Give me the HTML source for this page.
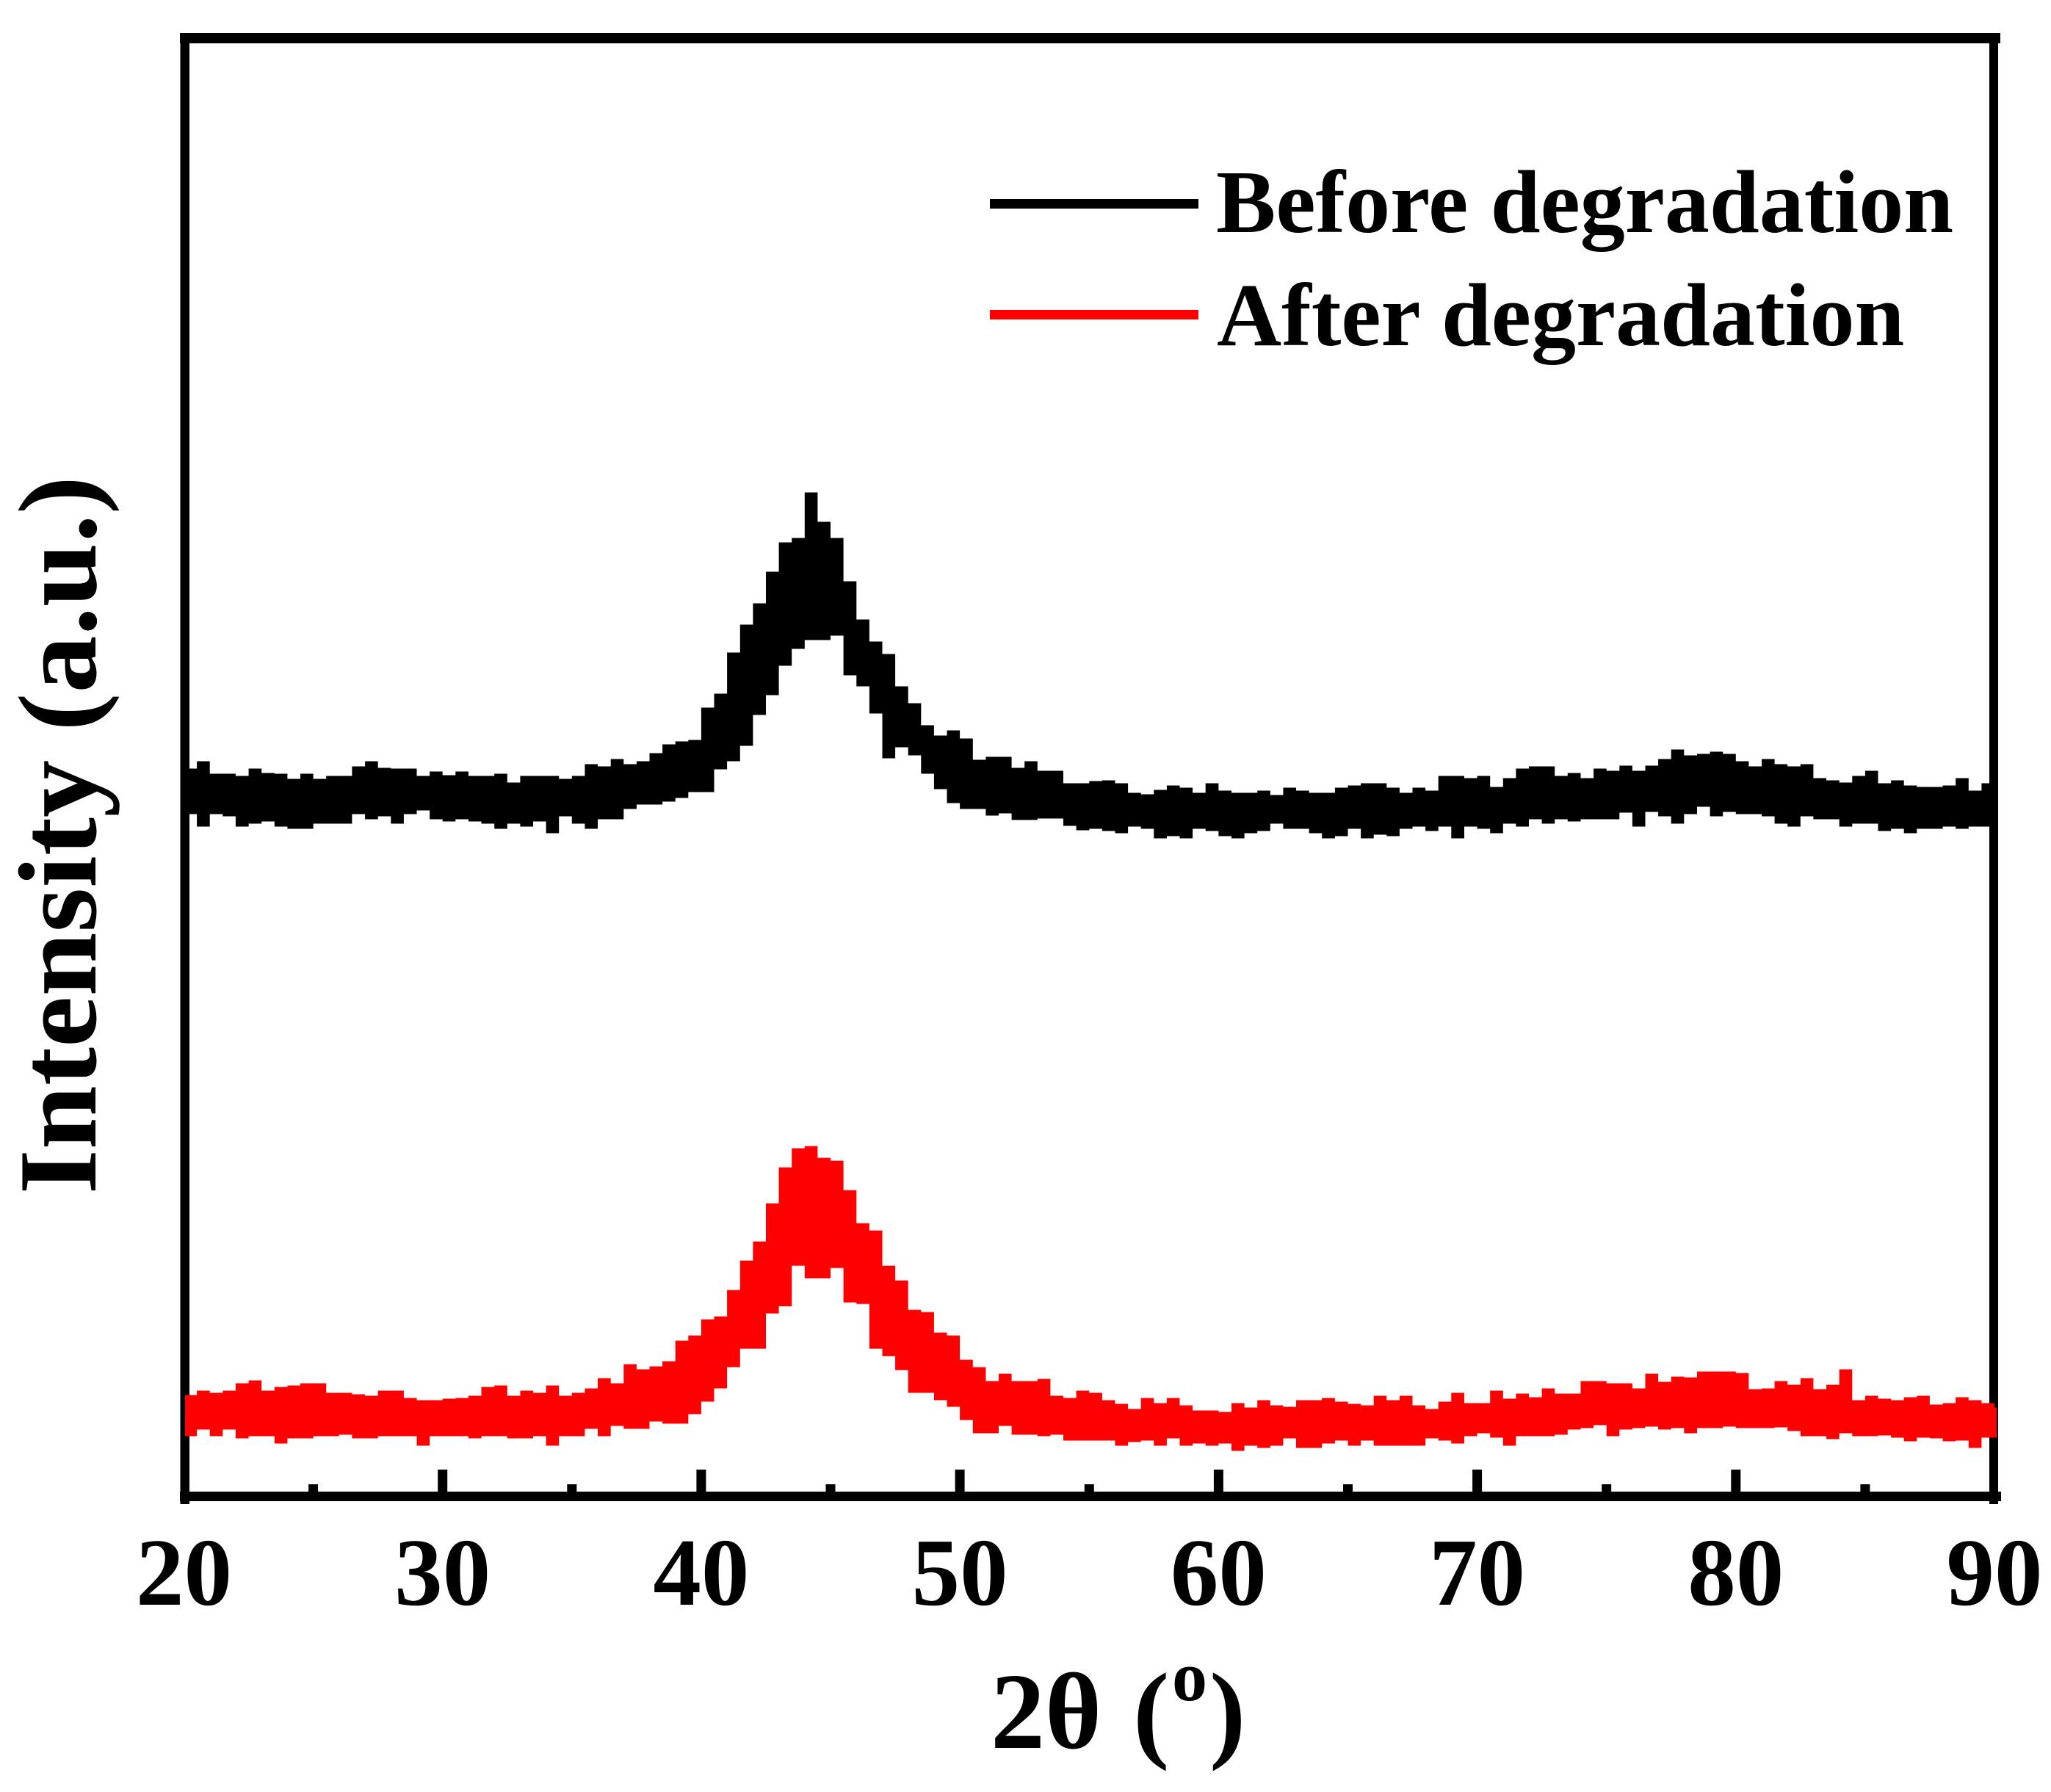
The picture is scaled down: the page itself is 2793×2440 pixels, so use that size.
<!DOCTYPE html>
<html>
<head>
<meta charset="utf-8">
<title>XRD patterns before and after degradation</title>
<style>
html,body{margin:0;padding:0;background:#fff;}
svg{display:block;}
text{font-family:"Liberation Serif",serif;font-weight:bold;fill:#000;}
</style>
</head>
<body>
<svg id="chart" xmlns="http://www.w3.org/2000/svg" width="2793" height="2440" viewBox="0 0 2793 2440">
  <defs>
    <clipPath id="plot-clip"><rect x="252" y="45" width="2467" height="2000"/></clipPath>
  </defs>
  <rect x="0" y="0" width="2793" height="2440" fill="#fff"/>
  <g id="axes">
    <rect x="245" y="45" width="2479" height="14" fill="#000"/>
    <rect x="245.5" y="45" width="12.5" height="2003" fill="#000"/>
    <rect x="2709" y="45" width="12" height="2003" fill="#000"/>
    <rect x="245" y="2031" width="2480" height="13" fill="#000"/>
  </g>
  <g id="ticks"></g>
  <g id="tick-labels"></g>
  <g id="series" clip-path="url(#plot-clip)"></g>

  <text font-size="148" y="2380"><tspan x="1349">2θ</tspan><tspan x="1543">(</tspan><tspan x="1596" y="2315" font-size="96">o</tspan><tspan x="1647" y="2380">)</tspan></text>
  <text font-size="152" transform="translate(130,1626) rotate(-90)" textLength="978" lengthAdjust="spacingAndGlyphs">Intensity (a.u.)</text>

  <g>
    <rect x="1348" y="271" width="284" height="13" fill="#000"/>
    <text x="1656" y="316" font-size="122">Before degradation</text>
    <rect x="1348" y="422" width="284" height="13" fill="#ff0000"/>
    <text x="1657" y="470" font-size="122">After degradation</text>
  </g>
</svg>
<script>
// Chart data: values (upper and lower edge of each noisy trace, one pair per 0.5 degree bin)
const majorTicks = [20, 30, 40, 50, 60, 70, 80, 90];
const minorTicks = [25, 35, 45, 55, 65, 75, 85];
const binStart = 20;
const binStep = 0.5;

const beforeUpper = [986,996,979,979,976,986,980,979,972,979,972,976,976,989,996,987,986,986,976,982,977,982,976,976,979,967,976,976,976,972,976,992,989,999,992,
996,1007,1019,1023,1025,1069,1088,1144,1182,1211,1254,1294,1300,1362,1322,1300,1241,1189,1159,1142,1098,1075,1045,1031,1038,1027,998,1002,1002,987,996,983,983,966,966,969,
970,966,953,951,957,963,960,953,966,956,953,953,956,950,960,956,953,953,960,963,966,966,960,953,960,956,976,976,973,976,961,973,986,989,
989,976,980,973,986,983,990,983,990,999,1012,1004,1006,1009,1006,996,989,999,992,989,992,973,970,967,976,983,966,970,963,961,961,963,973,956,966,966];

const beforeLower = [933,916,933,930,916,920,923,916,913,913,920,920,920,933,926,930,920,933,938,926,923,926,923,920,913,920,916,923,907,930,920,913,926,926,940,
946,946,950,955,963,963,994,1005,1026,1068,1095,1135,1158,1170,1170,1176,1122,1107,1070,1009,1024,1013,988,967,948,940,940,931,934,925,925,927,927,917,911,913,
910,907,916,913,900,903,900,913,910,903,900,907,910,920,913,913,907,900,903,913,900,905,903,913,916,910,916,900,916,913,907,920,916,926,
920,926,923,926,926,926,935,916,936,930,920,933,943,930,936,933,933,930,920,916,930,926,926,916,920,920,910,913,907,913,913,916,913,916,916,916];

const afterUpper = [133,139,136,139,149,153,139,144,146,149,149,136,136,134,132,139,139,129,126,126,128,129,132,144,146,132,139,136,146,132,136,142,156,149,175,
168,172,179,207,214,236,240,276,316,342,394,443,469,472,456,452,412,367,357,309,289,249,246,218,214,181,171,152,162,152,152,155,132,129,
139,136,126,121,114,129,122,129,119,112,112,110,122,116,126,119,117,126,126,129,124,121,119,132,126,132,119,114,124,136,122,122,
139,128,135,130,142,135,135,152,152,149,149,142,162,151,158,157,165,165,165,163,141,142,152,147,156,141,147,168,126,132,128,126,130,132,120,122,130,126,122,116];

const afterLower = [86,95,86,95,83,86,86,76,83,83,86,86,88,83,83,86,86,86,73,86,86,86,83,86,86,83,83,86,73,86,86,96,86,100,96,
96,106,103,103,116,133,151,180,205,205,253,263,318,301,301,315,268,266,205,195,176,145,145,135,126,108,90,90,100,88,88,86,88,80,
80,80,80,73,78,80,73,83,73,76,73,76,66,73,70,73,83,70,70,76,80,73,80,73,73,73,73,83,80,76,86,90,
84,73,86,86,86,88,95,97,101,86,95,97,99,95,97,90,97,97,99,97,97,97,98,93,86,86,82,90,86,86,87,84,79,84,83,79,80,70,84,84];

const NS = 'http://www.w3.org/2000/svg';
const X_MIN = 20, X_MAX = 90, X_LEFT = 250.5, X_RIGHT = 2716;
const Y_MIN = 0, Y_MAX = 1985, Y_BOTTOM = 2037, Y_TOP = 52;
const TRACE_HALF_WIDTH = 4.5;

function xScale(v) { return X_LEFT + (v - X_MIN) * (X_RIGHT - X_LEFT) / (X_MAX - X_MIN); }
function yScale(v) { return Y_BOTTOM - (v - Y_MIN) * (Y_BOTTOM - Y_TOP) / (Y_MAX - Y_MIN); }

function addTick(parent, value, length) {
  const el = document.createElementNS(NS, 'rect');
  
  
  el.setAttribute('x', (xScale(value) - 6.5).toFixed(1));
  el.setAttribute('y', 2031 - length);
  el.setAttribute('width', 13);
  el.setAttribute('height', length);
  el.setAttribute('fill', '#000');
  parent.appendChild(el);
}

const tickGroup = document.getElementById('ticks');
majorTicks.filter(function (t) { return t > X_MIN && t < X_MAX; }).forEach(function (t) { addTick(tickGroup, t, 30); });
minorTicks.forEach(function (t) { addTick(tickGroup, t, 10); });

const labelGroup = document.getElementById('tick-labels');
majorTicks.forEach(function (t) {
  const el = document.createElementNS(NS, 'text');
  
  
  el.setAttribute('x', xScale(t).toFixed(1));
  el.setAttribute('y', 2185);
  el.setAttribute('font-size', 131);
  el.setAttribute('text-anchor', 'middle');
  el.textContent = String(t);
  labelGroup.appendChild(el);
});

// Stepped band: each bin is a flat run between its upper and lower edge, as in the blocky source trace
function bandPath(upper, lower) {
  const pts = [];
  upper.forEach(function (v, k) {
    const y = yScale(v + TRACE_HALF_WIDTH).toFixed(1);
    pts.push(xScale(binStart + k * binStep).toFixed(1) + ' ' + y);
    pts.push(xScale(binStart + (k + 1) * binStep).toFixed(1) + ' ' + y);
  });
  for (let k = lower.length - 1; k >= 0; k--) {
    const y = yScale(lower[k] - TRACE_HALF_WIDTH).toFixed(1);
    pts.push(xScale(binStart + (k + 1) * binStep).toFixed(1) + ' ' + y);
    pts.push(xScale(binStart + k * binStep).toFixed(1) + ' ' + y);
  }
  return 'M' + pts.join('L') + 'Z';
}

const seriesGroup = document.getElementById('series');

const beforeTrace = document.createElementNS(NS, 'path');


beforeTrace.setAttribute('d', bandPath(beforeUpper, beforeLower));
beforeTrace.setAttribute('fill', '#000');
seriesGroup.appendChild(beforeTrace);

const afterTrace = document.createElementNS(NS, 'path');


afterTrace.setAttribute('d', bandPath(afterUpper, afterLower));
afterTrace.setAttribute('fill', '#ff0000');
seriesGroup.appendChild(afterTrace);
</script>
</body>
</html>
